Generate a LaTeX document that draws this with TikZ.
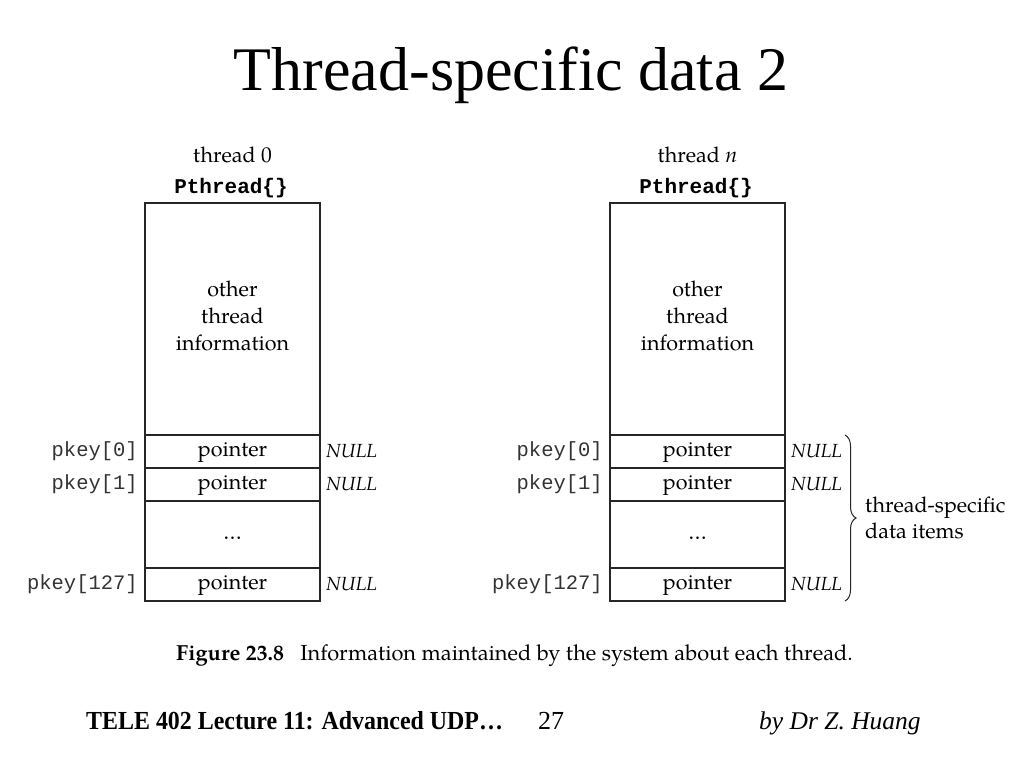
\documentclass[tikz,border=0pt]{standalone}
\usepackage{fontspec}
\setmainfont{Liberation Serif}
\newfontfamily\pal{TeX Gyre Pagella}
\newfontfamily\mono{Liberation Mono}
\newfontfamily\footbf[FakeStretch=0.92]{Liberation Serif Bold}
\usetikzlibrary{decorations.pathreplacing,calc}
\begin{document}
\begin{tikzpicture}[x=1pt,y=-1pt,
  cell/.style={draw=black!85, line width=1.3pt, minimum width=175pt, inner sep=0pt, outer sep=0pt,
    font=\pal\fontsize{21.5}{27}\selectfont, align=center},
  row/.style={cell, minimum height=33pt, anchor=north, text height=12pt, text depth=3pt},
  key/.style={anchor=east, font=\mono\fontsize{20.5}{24}\selectfont, text=black!80, inner sep=0pt},
  nul/.style={anchor=west, font=\pal\itshape\fontsize{19}{24}\selectfont, inner sep=0pt},
  lab/.style={font=\pal\fontsize{21.5}{27}\selectfont, inner sep=0pt},
  ptr/.style={font=\mono\bfseries\fontsize{21}{24}\selectfont, inner sep=0pt}]
\useasboundingbox[fill=white] (0,0) rectangle (1024,768);

% title
\node[anchor=base, font=\fontsize{62}{72}\selectfont, inner sep=0pt] (title) at (511,90) {Thread-specific data 2};

% left thread
\node[lab, anchor=base] (th0) at (232.5,162) {thread 0};
\node[ptr, anchor=base] (pt0) at (231,193) {Pthread\{\}};
\node[cell, minimum height=232pt, text depth=6pt] (info0) at (232.5,319) {other\\thread\\information};
\node[row] (a0) at (info0.south) {pointer};
\node[row] (a1) at (a0.south) {pointer};
\node[row, minimum height=67pt] (ad) at (a1.south) {\dots};
\node[row] (a127) at (ad.south) {pointer};
\node[key] (ka0) at ([xshift=-7pt]a0.west) {pkey[0]};
\node[key] (ka1) at ([xshift=-7pt]a1.west) {pkey[1]};
\node[key] (ka127) at ([xshift=-7pt]a127.west) {pkey[127]};
\node[nul] (na0) at ([xshift=6pt]a0.east) {NULL};
\node[nul] (na1) at ([xshift=6pt]a1.east) {NULL};
\node[nul] (na127) at ([xshift=6pt]a127.east) {NULL};

% right thread
\node[lab, anchor=base] (thn) at (697.5,162) {thread \textit{n}};
\node[ptr, anchor=base] (ptn) at (696,193) {Pthread\{\}};
\node[cell, minimum height=232pt, text depth=6pt] (infon) at (697.5,319) {other\\thread\\information};
\node[row] (b0) at (infon.south) {pointer};
\node[row] (b1) at (b0.south) {pointer};
\node[row, minimum height=67pt] (bd) at (b1.south) {\dots};
\node[row] (b127) at (bd.south) {pointer};
\node[key] (kb0) at ([xshift=-7pt]b0.west) {pkey[0]};
\node[key] (kb1) at ([xshift=-7pt]b1.west) {pkey[1]};
\node[key] (kb127) at ([xshift=-7pt]b127.west) {pkey[127]};
\node[nul] (nb0) at ([xshift=6pt]b0.east) {NULL};
\node[nul] (nb1) at ([xshift=6pt]b1.east) {NULL};
\node[nul] (nb127) at ([xshift=6pt]b127.east) {NULL};

% brace
\coordinate (bt) at ([xshift=60pt]b0.north east);
\coordinate (bb) at ([xshift=60pt]b127.south east);
\draw[decorate, decoration={brace, amplitude=11pt}, line width=1pt, black!85] (bt) -- (bb);
\node[lab, anchor=west, align=left, font=\pal\fontsize{21.5}{26}\selectfont] (tsd) at ([xshift=20pt]$(bt)!0.5!(bb)$) {thread-specific\\data items};

% caption
\node[anchor=base west, font=\pal\fontsize{21.8}{26}\selectfont, inner sep=0pt] (cap) at (176,660)
  {\textbf{Figure 23.8}\hspace{0.75em}Information maintained by the system about each thread.};

% footer
\node[anchor=base west, font=\fontsize{26}{30}\selectfont, inner sep=0pt] (foot) at (86,729)
  {{\footbf TELE 402 Lecture 11: Advanced UDP…}\hspace{1.35em}27};
\node[anchor=base west, font=\itshape\fontsize{25.5}{30}\selectfont, inner sep=0pt] (auth) at (759,729) {by Dr Z. Huang};
\end{tikzpicture}
\end{document}
